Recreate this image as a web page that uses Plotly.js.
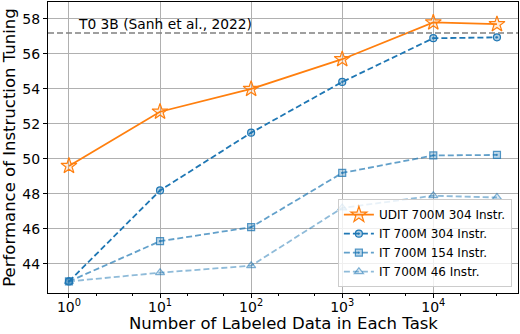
<!DOCTYPE html>
<html><head><meta charset="utf-8">
<script src="https://cdn.plot.ly/plotly-3.0.1.min.js"></script>
<style>body{margin:0;padding:0;background:#fff}#chart{width:520px;height:334px}</style>
</head><body><div id="chart"></div>
<script>
const xValues = [1, 10, 100, 1000, 10000, 50000];
const udit304 = [49.6, 52.7, 54.0, 55.7, 57.8, 57.7];
const it304 = [43.0, 48.2, 51.5, 54.4, 56.9, 56.95];
const it154 = [43.0, 45.3, 46.1, 49.2, 50.2, 50.23];
const it46 = [43.0, 43.5, 43.9, 47.2, 47.9, 47.8];
const t0Value = 57.2;
const t0Label = "T0 3B (Sanh et al., 2022)";
const xTitle = "Number of Labeled Data in Each Task";
const yTitle = "Performance of Instruction Tuning";
const seriesNames = ["UDIT 700M 304 Instr.", "IT 700M 304 Instr.", "IT 700M 154 Instr.", "IT 700M 46 Instr."];
const xTickVals = [1, 10, 100, 1000, 10000];
const xTickText = ["10<sup>0</sup>", "10<sup>1</sup>", "10<sup>2</sup>", "10<sup>3</sup>", "10<sup>4</sup>"];
const yTickVals = [44, 46, 48, 50, 52, 54, 56, 58];

const F = "DejaVu Sans, sans-serif";
const DASH = "6px,3px";
const traces = [
  {x: xValues, y: udit304, name: seriesNames[0], mode: "lines+markers",
   line: {color: "#ff7f0e", width: 1.8},
   marker: {symbol: "star", size: 12, color: "rgba(255,127,14,0.15)", line: {color: "#ff7f0e", width: 1.2}}},
  {x: xValues, y: it304, name: seriesNames[1], mode: "lines+markers",
   line: {color: "#1f77b4", width: 1.8, dash: DASH},
   marker: {symbol: "circle-dot", size: 7, color: "rgba(31,119,180,0.35)", line: {color: "#1f77b4", width: 1.2}}},
  {x: xValues, y: it154, name: seriesNames[2], mode: "lines+markers",
   line: {color: "rgba(31,119,180,0.7)", width: 1.8, dash: DASH},
   marker: {symbol: "square-dot", size: 7, color: "rgba(31,119,180,0.3)", line: {color: "rgba(31,119,180,0.75)", width: 1.2}}},
  {x: xValues, y: it46, name: seriesNames[3], mode: "lines+markers",
   line: {color: "rgba(31,119,180,0.5)", width: 1.8, dash: DASH},
   marker: {symbol: "triangle-up", size: 8, color: "rgba(31,119,180,0.15)", line: {color: "rgba(31,119,180,0.55)", width: 1.2}}}
];

const layout = {
  width: 520, height: 334,
  margin: {l: 48, r: 2, t: 2, b: 41},
  paper_bgcolor: "#fff", plot_bgcolor: "#fff",
  font: {family: F, color: "#000", size: 14},
  showlegend: true,
  legend: {x: 0.987, y: 0.02, xanchor: "right", yanchor: "bottom",
    bgcolor: "rgba(255,255,255,0.8)", bordercolor: "#cccccc", borderwidth: 1,
    font: {family: F, size: 12, color: "#000"}, tracegroupgap: 0, itemwidth: 30},
  xaxis: {type: "log", range: [-0.23, 4.93], tickvals: xTickVals, ticktext: xTickText,
    showgrid: true, gridcolor: "#b0b0b0", gridwidth: 1,
    showline: true, linecolor: "#000", linewidth: 1, mirror: true,
    ticks: "outside", ticklen: 4, tickcolor: "#000", zeroline: false,
    tickfont: {family: F, size: 14}, ticklabelstandoff: -3,
    minor: {ticks: "outside", ticklen: 2, tickcolor: "#000", showgrid: false}},
  yaxis: {range: [42.34, 58.97], tickvals: yTickVals,
    showgrid: true, gridcolor: "#b0b0b0", gridwidth: 1,
    showline: true, linecolor: "#000", linewidth: 1, mirror: true,
    ticks: "outside", ticklen: 4, tickcolor: "#000", zeroline: false,
    tickfont: {family: F, size: 14},
    title: {text: yTitle, font: {family: F, size: 16.5}, standoff: 4}},
  shapes: [{type: "line", xref: "paper", x0: 0, x1: 1, yref: "y", y0: t0Value, y1: t0Value,
    line: {color: "#808080", width: 1.5, dash: DASH}}],
  annotations: [
    {xref: "x", yref: "y", x: Math.log10(1.21), y: t0Value, xanchor: "left", yanchor: "bottom",
     text: t0Label, showarrow: false, font: {family: F, size: 13.8, color: "#000"}, yshift: -1},
    {xref: "paper", yref: "paper", x: 0.5, y: 0, xanchor: "center", yanchor: "middle", yshift: -30,
     text: xTitle, showarrow: false, font: {family: F, size: 16.5, color: "#000"}}
  ]
};
Plotly.newPlot("chart", traces, layout, {displayModeBar: false, staticPlot: true});
</script></body></html>
